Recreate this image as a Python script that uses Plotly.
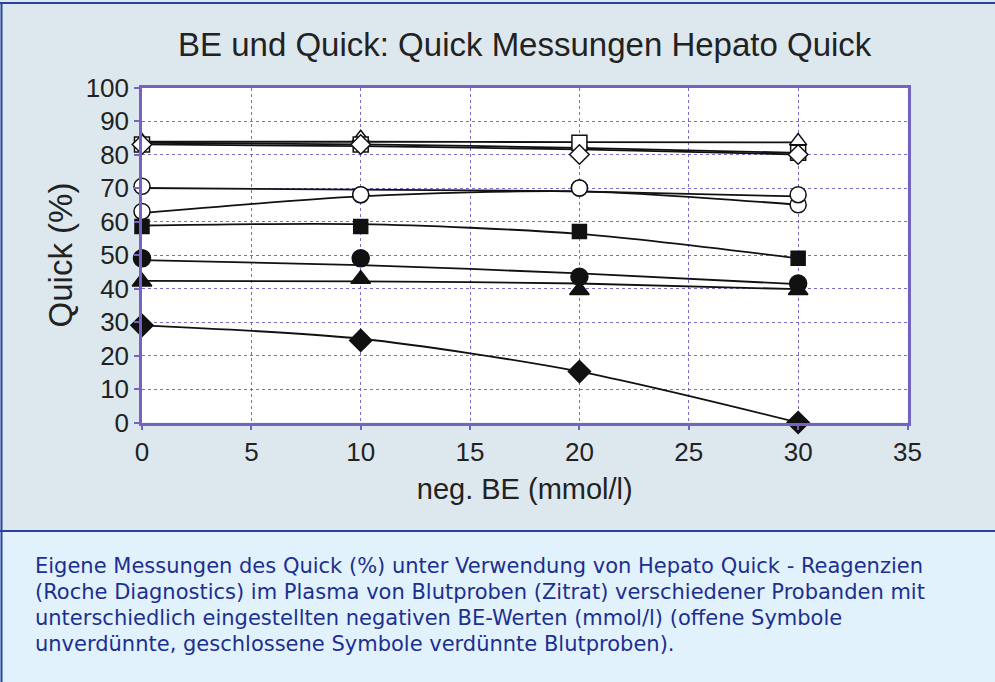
import plotly.graph_objects as go

W, H = 995, 682

# ---- data ----
be = [0, 10, 20, 30]

open_square = [83, 83, 83.5, 80.5]
open_triangle = [84, 85, 83, 84]
open_diamond = [83, 83, 80, 80]
open_circle_a = [70.5, 68, 70, 68]
open_circle_b = [63, 68, 70, 65]
filled_square = [58.5, 58.5, 57, 49]
filled_circle = [49, 49, 43.5, 41.5]
filled_triangle = [42, 42.8, 39.5, 39.5]
filled_diamond = [29, 24.5, 15.2, 0]

# trend lines as drawn in the chart (values at BE = 0, 10, 20, 30)
trend_open_square = [83.5, 83, 82, 80.5]
trend_open_triangle = [83.8, 83.8, 83.7, 83.6]
trend_open_diamond = [83, 82.5, 81.5, 80]
trend_open_circle_a = [70, 69.5, 69, 67.5]
trend_open_circle_b = [62.5, 67.5, 69, 65]
trend_filled_square = [58.8, 59.2, 56.3, 49]
trend_filled_circle = [48.5, 47, 44.5, 41.3]
trend_filled_triangle = [42.3, 42.1, 41.5, 39.8]
trend_filled_diamond = [29, 25, 15.2, 0]

x_ticks = [0, 5, 10, 15, 20, 25, 30, 35]
y_ticks = [0, 10, 20, 30, 40, 50, 60, 70, 80, 90, 100]

title = "BE und Quick: Quick Messungen Hepato Quick"
x_title = "neg. BE (mmol/l)"
y_title = "Quick (%)"
caption_lines = [
    "Eigene Messungen des Quick (%) unter Verwendung von Hepato Quick - Reagenzien",
    "(Roche Diagnostics) im Plasma von Blutproben (Zitrat) verschiedener Probanden mit",
    "unterschiedlich eingestellten negativen BE-Werten (mmol/l) (offene Symbole",
    "unverdünnte, geschlossene Symbole verdünnte Blutproben).",
]

# ---- styling ----
TOP_BG = "#dde8ee"
BOT_BG = "#e1f2fc"
BORDER = "#26449e"
AXIS = "#7463c0"
GRID = "rgba(95,85,195,0.85)"
FONT = "Liberation Sans, Arial, sans-serif"
TXT = "#222222"

fig = go.Figure()

trends = [
    trend_open_square, trend_open_triangle, trend_open_diamond,
    trend_open_circle_a, trend_open_circle_b, trend_filled_square,
    trend_filled_circle, trend_filled_triangle, trend_filled_diamond,
]
for t in trends:
    fig.add_trace(go.Scatter(
        x=be, y=t, mode="lines",
        line=dict(color="#111111", width=1.8, shape="spline", smoothing=0.8),
        hoverinfo="skip", showlegend=False, cliponaxis=False,
    ))

series = [
    (filled_diamond, "diamond", "#111111", 17),
    (filled_triangle, "triangle-up", "#111111", 17),
    (filled_circle, "circle", "#111111", 17),
    (filled_square, "square", "#111111", 14),
    (open_circle_b, "circle", "white", 16),
    (open_circle_a, "circle", "white", 16),
    (open_triangle, "triangle-up", "white", 15),
    (open_square, "square", "white", 15),
    (open_diamond, "diamond", "white", 15),
]
for vals, sym, fill, size in series:
    fig.add_trace(go.Scatter(
        x=be, y=vals, mode="markers", cliponaxis=False,
        marker=dict(symbol=sym, size=size, color=fill, line=dict(color="#111111", width=1.5)),
        showlegend=False,
    ))

x_dom = [142 / W, 907.5 / W]
y_dom = [1 - 422.5 / H, 1 - 87.5 / H]

fig.update_layout(
    width=W, height=H,
    margin=dict(l=0, r=0, t=0, b=0, pad=0, autoexpand=False),
    paper_bgcolor=TOP_BG,
    plot_bgcolor="white",
    showlegend=False,
    font=dict(family=FONT, color=TXT),
    xaxis=dict(
        domain=x_dom, range=[0, 35], tickvals=x_ticks, ticks="outside", ticklen=5,
        tickcolor=AXIS, tickwidth=2, showline=True, linecolor=AXIS, linewidth=2.5,
        mirror=True, showgrid=True, gridcolor=GRID, griddash="dot", gridwidth=1,
        zeroline=False, automargin=False, tickfont=dict(size=26, family=FONT, color=TXT),
        title=dict(text=x_title, font=dict(size=29, family=FONT, color=TXT), standoff=13),
    ),
    yaxis=dict(
        domain=y_dom, range=[0, 100], tickvals=y_ticks, ticks="outside", ticklen=5,
        tickcolor=AXIS, tickwidth=2, showline=True, linecolor=AXIS, linewidth=2.5,
        mirror=True, showgrid=True, gridcolor=GRID, griddash="dot", gridwidth=1,
        zeroline=False, automargin=False, tickfont=dict(size=26, family=FONT, color=TXT),
        title=dict(text=y_title, font=dict(size=33, family=FONT, color=TXT), standoff=4),
    ),
)

# background panels and borders
sep_y = 1 - 531 / H
fig.add_shape(type="rect", xref="paper", yref="paper", x0=0, x1=1, y0=0, y1=sep_y,
              fillcolor=BOT_BG, line=dict(width=0), layer="below")
fig.add_shape(type="line", xref="paper", yref="paper", x0=0, x1=1, y0=sep_y, y1=sep_y,
              line=dict(color=BORDER, width=2))
fig.add_shape(type="line", xref="paper", yref="paper", x0=0, x1=1, y0=1 - 3 / H, y1=1 - 3 / H,
              line=dict(color=BORDER, width=2))
fig.add_shape(type="line", xref="paper", yref="paper", x0=1.5 / W, x1=1.5 / W, y0=0, y1=1 - 3 / H,
              line=dict(color=BORDER, width=2))

# title
fig.add_annotation(text=title, xref="paper", yref="paper", x=525 / W, y=1 - 45 / H,
                   xanchor="center", yanchor="middle", showarrow=False,
                   font=dict(size=33, family=FONT, color=TXT))

# caption
for i, line in enumerate(caption_lines):
    fig.add_annotation(text=line, xref="paper", yref="paper", x=33 / W, y=1 - (566 + 26 * i) / H,
                       xanchor="left", yanchor="middle", showarrow=False,
                       font=dict(size=21, family="DejaVu Sans, Verdana, sans-serif", color="#1d2f8f"))

fig.write_html(
    "out.html",
    config={"displayModeBar": False},
    post_script="document.body.style.margin='0px';",
)
